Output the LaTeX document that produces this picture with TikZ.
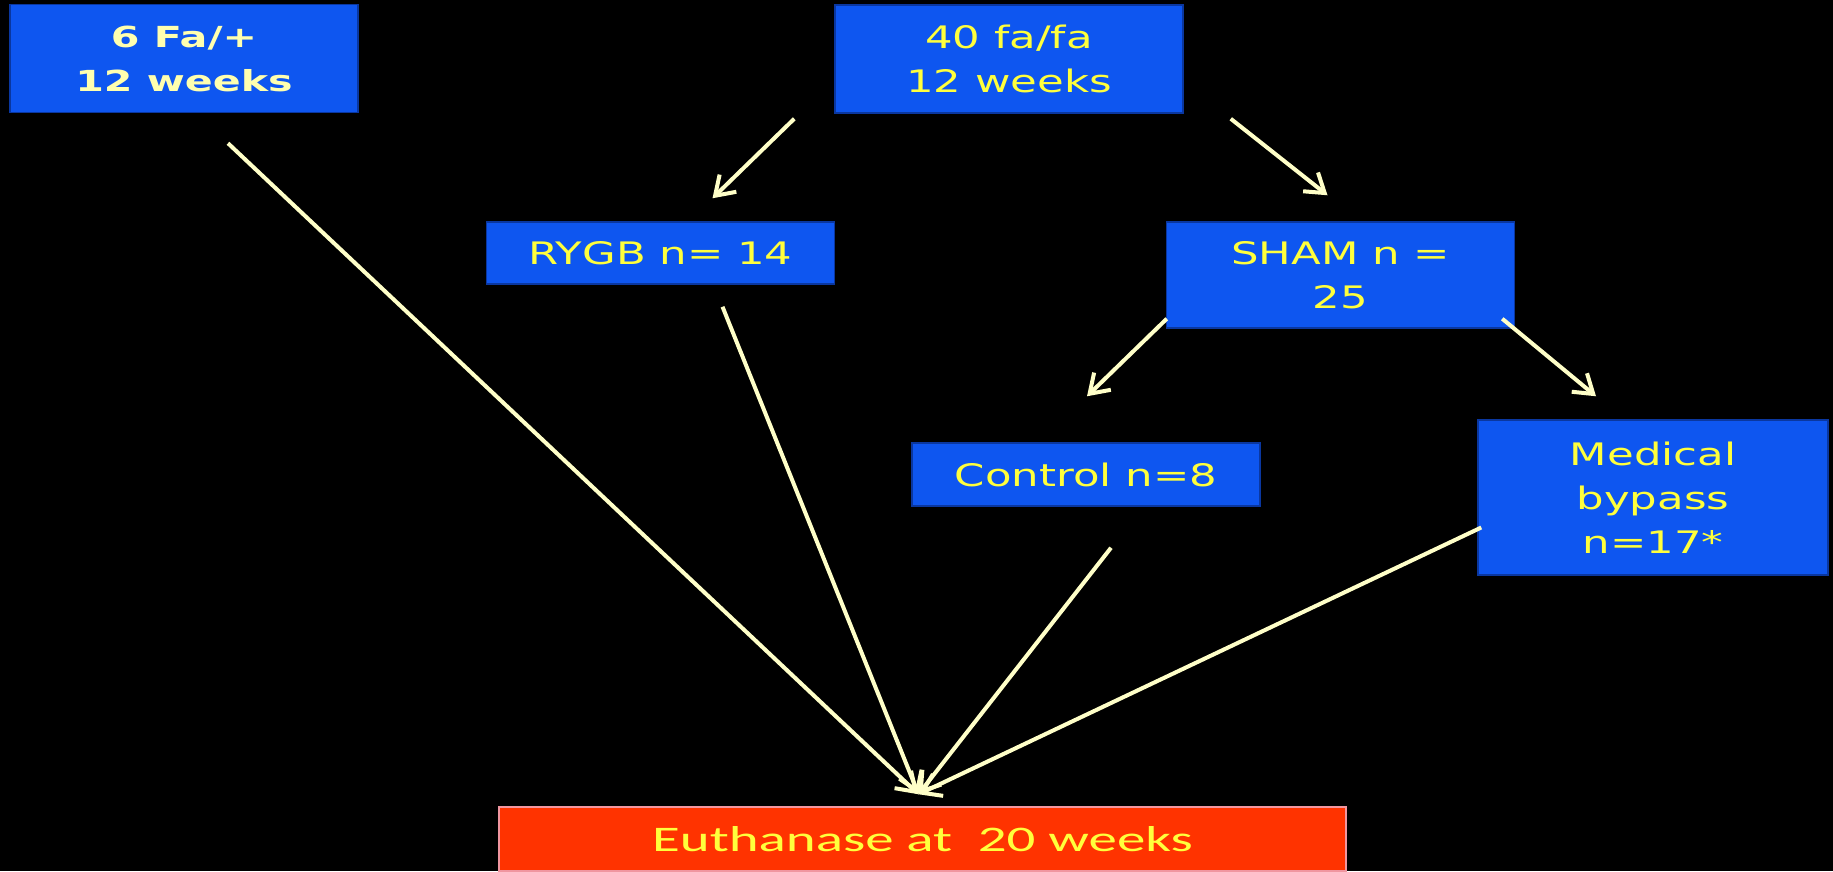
\documentclass[tikz,border=0pt]{standalone}
\usepackage{fontspec}
\usetikzlibrary{arrows.meta,calc}
\newfontfamily\boxfont[FakeStretch=1.4]{DejaVu Sans}
\newfontfamily\boxbold[FakeStretch=1.42]{DejaVu Sans Bold}
\newfontfamily\eutfont[FakeStretch=1.58]{Carlito}
\definecolor{boxblue}{RGB}{14,86,240}
\definecolor{boxedge}{RGB}{10,55,160}
\definecolor{boxyellow}{RGB}{255,255,60}
\definecolor{cream}{RGB}{255,255,175}
\definecolor{arrowcream}{RGB}{255,255,200}
\definecolor{eutred}{RGB}{255,51,0}
\definecolor{eutedge}{RGB}{240,150,160}
\tikzset{group/.style={draw=boxedge, fill=boxblue, line width=1.5pt, align=center, text=boxyellow,
                       inner sep=0pt, font=\boxfont\fontsize{31}{44}\selectfont},
         endbox/.style={draw=eutedge, fill=eutred, line width=1.5pt, text=boxyellow, inner sep=0pt,
                       font=\eutfont\fontsize{36}{44}\selectfont},
         line/.style={line width=4pt, draw=arrowcream, -{Straight Barb[length=18pt,width=24pt]}}}
\def\boxw{348}

\begin{document}
\begin{tikzpicture}[x=1pt,y=-1pt]
\useasboundingbox (0,0) rectangle (1833,871);
\clip (0,0) rectangle (1833,871);
\fill[black] (0,0) rectangle (1833,871);

\node (lean) [group, minimum width=\boxw, minimum height=108, text=cream, font=\boxbold\fontsize{29}{44}\selectfont]
  at (184,58.5) {6 Fa/+\\12 weeks};
\node (fafa) [group, minimum width=\boxw, minimum height=108] at (1009,59) {40 fa/fa\\ 12 weeks};
\node (rygb) [group, minimum width=\boxw, minimum height=62] at (660.5,253) {RYGB n= 14};
\node (sham) [group, minimum width=\boxw, minimum height=106] at (1340.5,275) {SHAM n =\\25};
\node (ctrl) [group, minimum width=\boxw, minimum height=63] at (1086,474.5) {Control n=8};
\node (med) [group, minimum width=350, minimum height=155] at (1653,497.5) {Medical\\bypass\\n=17*};
\node (eut) [endbox, minimum width=847, minimum height=64] at (922.5,839) {Euthanase at \ 20 weeks};

% all groups end at the same point above the last box
\coordinate (tip) at ([shift={(-4,-12)}]eut.north);

\draw [line] ([shift={(-40,5)}]fafa.south west) -- ([shift={(52,-23)}]rygb.north);
\draw [line] ([shift={(47,5)}]fafa.south east) -- ([shift={(-13,-26)}]sham.north);
\draw [line] ([shift={(1,-10)}]sham.south west) -- ([shift={(1,-46)}]ctrl.north);
\draw [line] ([shift={(-13,-10)}]sham.south east) -- ([shift={(-57,-23)}]med.north);

\draw [line] ([shift={(44,30)}]lean.south) -- (tip);
\draw [line] ([shift={(62,22)}]rygb.south) -- (tip);
\draw [line] ([shift={(25,41)}]ctrl.south) -- (tip);
\draw [line] ([shift={(4,30)}]med.west) -- (tip);
\end{tikzpicture}
\end{document}
